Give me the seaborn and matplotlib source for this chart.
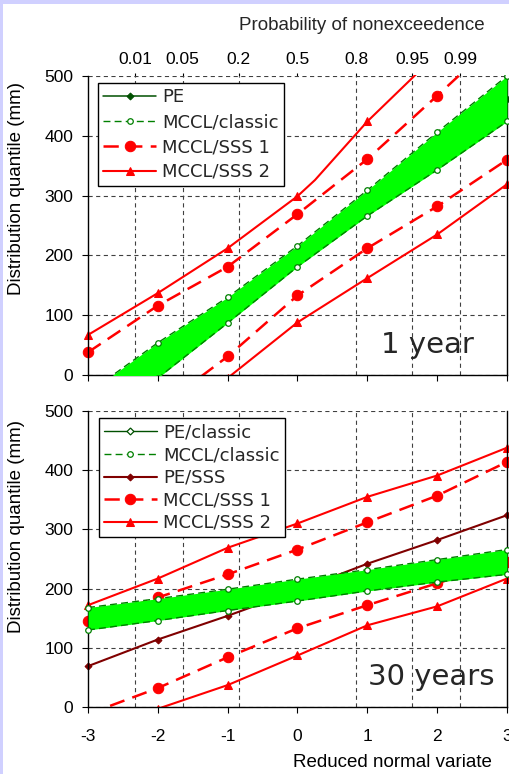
import matplotlib
matplotlib.use('Agg')
import matplotlib.pyplot as plt
from matplotlib.patches import Rectangle
from matplotlib.transforms import Bbox, TransformedBbox
import seaborn as sns
from statistics import NormalDist

# reduced normal variate of the plotted quantiles
x_pts = [-3, -2, -1, 0, 1, 2, 3]

# 1 year window
pe_1y = [-60, 25, 108, 198, 288, 375, 461]
classic_up_1y = [-30, 54, 130, 216, 309, 406, 500]
classic_lo_1y = [-100, -5, 87, 181, 266, 343, 424]
sss1_up_1y = [38, 116, 181, 269, 361, 467, 575]
sss1_lo_1y = [-145, -57, 31, 133, 212, 282, 360]
sss2_up_x = [-3, -2, -1, 0, 0.25, 1, 2, 3]
sss2_up_1y = [67, 137, 212, 299, 326, 424, 537, 650]
sss2_lo_1y = [-190, -97, -5, 88, 162, 235, 319]

# 30 years window
pe_classic_30 = [149, 165, 181, 197, 214, 230, 245]
classic_up_30 = [168, 183, 199, 216, 232, 249, 266]
classic_lo_30 = [130, 146, 163, 179, 196, 211, 224]
pe_sss_30 = [69, 114, 154, 197, 242, 282, 324]
sss1_up_30 = [146, 185, 224, 266, 312, 357, 414]
sss1_lo_30 = [-12, 32, 84, 133, 172, 209, 245]
sss2_up_30 = [172, 217, 269, 310, 355, 391, 438]
sss2_lo_30 = [-45, -3, 37, 87, 138, 170, 217]

prob_values = [0.01, 0.05, 0.2, 0.5, 0.8, 0.95, 0.99]
prob_labels = ['0.01', '0.05', '0.2', '0.5', '0.8', '0.95', '0.99']
prob_pos = [NormalDist().inv_cdf(p) for p in prob_values]

RED = '#ff0000'
DKRED = '#800000'
GREEN = '#008000'
DKGREEN = '#005000'
LIME = '#00ff00'
GRID = '#404040'

sns.set_theme(style='white')
plt.rcParams['font.family'] = ['Liberation Sans', 'DejaVu Sans']
plt.rcParams['lines.scale_dashes'] = False
plt.rcParams['axes.unicode_minus'] = False

pe_kw = dict(color=DKGREEN, marker='D', markersize=3.5, markerfacecolor=DKGREEN,
             markeredgecolor=DKGREEN, linewidth=1.1, linestyle='-', zorder=2)
pe_open_kw = dict(pe_kw, markerfacecolor='white', markeredgewidth=0.9, linewidth=1.0)
pe_sss_kw = dict(color=DKRED, marker='D', markersize=3.5, markerfacecolor=DKRED,
                 markeredgecolor=DKRED, linewidth=1.5, linestyle='-', zorder=2)
classic_kw = dict(color=GREEN, marker='o', markersize=4, markerfacecolor='white',
                  markeredgecolor=GREEN, markeredgewidth=0.9, linewidth=1.0,
                  linestyle=(0, (5, 3)), zorder=4)
sss1_kw = dict(color=RED, marker='o', markersize=7.5, markerfacecolor=RED,
               markeredgecolor=RED, linewidth=1.8, linestyle=(0, (11, 6)), zorder=2)
sss2_kw = dict(color=RED, marker='^', markersize=5.5, markerfacecolor=RED,
               markeredgecolor=RED, linewidth=1.5, linestyle='-', zorder=2)


def draw(ax, x, y, **kw):
    sns.lineplot(x=x, y=y, ax=ax, errorbar=None, legend=False, sort=False, **kw)
    line = ax.lines[-1]
    # let end markers spill sideways over the frame, as in the original
    line.set_clip_box(TransformedBbox(Bbox([[-0.03, 0.0], [1.03, 1.005]]), ax.transAxes))
    return line


def style_axes(ax):
    ax.set_xlim(-3, 3)
    ax.set_ylim(0, 500)
    ax.set_xticks(x_pts)
    ax.set_xticks(prob_pos, minor=True)
    ax.set_yticks([0, 100, 200, 300, 400, 500])
    ax.set_axisbelow(True)
    ax.grid(False)
    ax.grid(True, which='minor', axis='x', color=GRID, linewidth=0.8, linestyle=(0, (3, 2.5)))
    ax.grid(True, which='major', axis='y', color=GRID, linewidth=0.8, linestyle=(0, (3, 2.5)))
    ax.tick_params(which='minor', length=0)
    ax.tick_params(axis='y', which='major', direction='out', length=4.5, width=0.8,
                   labelsize=12.5, pad=6, left=True, colors='black')
    ax.tick_params(axis='x', which='major', direction='out', length=4.5, width=0.8,
                   labelsize=12.5, pad=11, bottom=True, colors='black')
    ax.spines['top'].set_visible(False)
    for s in ['left', 'bottom', 'right']:
        ax.spines[s].set_color('black')
        ax.spines[s].set_linewidth(1.0)
    ax.set_ylabel('Distribution quantile (mm)', fontsize=13.5, color='black')
    ax.yaxis.set_label_coords(-0.15, 0.625)
    ax.set_xlabel('')


fig = plt.figure(figsize=(5.1, 7.74), dpi=100, facecolor='#d0d0ff')
fig.patches.append(Rectangle((3 / 510, 0), 1, 770 / 774, transform=fig.transFigure,
                             facecolor='white', edgecolor='none', zorder=-1))

ax1 = fig.add_axes([88 / 510, 399 / 774, 419 / 510, 299 / 774])
ax2 = fig.add_axes([88 / 510, 67 / 774, 419 / 510, 296 / 774])

# --- 1 year ---
h_pe = draw(ax1, x_pts, pe_1y, **pe_kw)
ax1.fill_between(x_pts, classic_lo_1y, classic_up_1y, color=LIME, linewidth=0, zorder=3)
h_cl = draw(ax1, x_pts, classic_up_1y, **classic_kw)
draw(ax1, x_pts, classic_lo_1y, **classic_kw)
h_s1 = draw(ax1, x_pts, sss1_up_1y, **sss1_kw)
draw(ax1, x_pts, sss1_lo_1y, **sss1_kw)
h_s2 = draw(ax1, sss2_up_x, sss2_up_1y, markevery=[0, 1, 2, 3, 5, 6, 7], **sss2_kw)
draw(ax1, x_pts, sss2_lo_1y, **sss2_kw)
style_axes(ax1)
ax1.tick_params(axis='x', labelbottom=False)

sec = ax1.secondary_xaxis('top')
sec.set_xticks(prob_pos, labels=prob_labels)
sec.tick_params(direction='out', length=2.5, width=0.8, labelsize=12.5, pad=4, colors='black')
sec.spines['top'].set_visible(False)
ax1.text(0.654, 1.154, 'Probability of nonexceedence', transform=ax1.transAxes,
         ha='center', va='baseline', fontsize=13.5)

ax1.legend([h_pe, h_cl, h_s1, h_s2], ['PE', 'MCCL/classic', 'MCCL/SSS 1', 'MCCL/SSS 2'],
           loc='upper left', bbox_to_anchor=(0.024, 0.977), borderaxespad=0,
           prop={'family': 'DejaVu Sans', 'size': 13}, handlelength=2.9, handletextpad=0.35,
           labelspacing=0.38, borderpad=0.3, fancybox=False, framealpha=1,
           edgecolor='black').get_frame().set_linewidth(1.0)
ax1.text(0.811, 0.074, '1 year', transform=ax1.transAxes, ha='center', va='baseline',
         fontsize=21, family='DejaVu Sans')

# --- 30 years ---
h_pec = draw(ax2, x_pts, pe_classic_30, **pe_open_kw)
h_pes = draw(ax2, x_pts, pe_sss_30, **pe_sss_kw)
h_s1b = draw(ax2, x_pts, sss1_up_30, **sss1_kw)
draw(ax2, x_pts, sss1_lo_30, **sss1_kw)
h_s2b = draw(ax2, x_pts, sss2_up_30, **sss2_kw)
draw(ax2, x_pts, sss2_lo_30, **sss2_kw)
ax2.fill_between(x_pts, classic_lo_30, classic_up_30, color=LIME, linewidth=0, zorder=3)
h_clb = draw(ax2, x_pts, classic_up_30, **classic_kw)
draw(ax2, x_pts, classic_lo_30, **classic_kw)
style_axes(ax2)
ax2.yaxis.set_label_coords(-0.15, 0.61)
ax2.set_xlabel('Reduced normal variate', fontsize=13.5, color='black')
ax2.xaxis.set_label_coords(0.7255, -0.160)

ax2.legend([h_pec, h_clb, h_pes, h_s1b, h_s2b],
           ['PE/classic', 'MCCL/classic', 'PE/SSS', 'MCCL/SSS 1', 'MCCL/SSS 2'],
           loc='upper left', bbox_to_anchor=(0.026, 0.975), borderaxespad=0,
           prop={'family': 'DejaVu Sans', 'size': 13}, handlelength=2.9, handletextpad=0.35,
           labelspacing=0.25, borderpad=0.3, fancybox=False, framealpha=1,
           edgecolor='black').get_frame().set_linewidth(1.0)
ax2.text(0.819, 0.074, '30 years', transform=ax2.transAxes, ha='center', va='baseline',
         fontsize=21, family='DejaVu Sans')

fig.savefig('out.png', dpi=100, facecolor=fig.get_facecolor())
